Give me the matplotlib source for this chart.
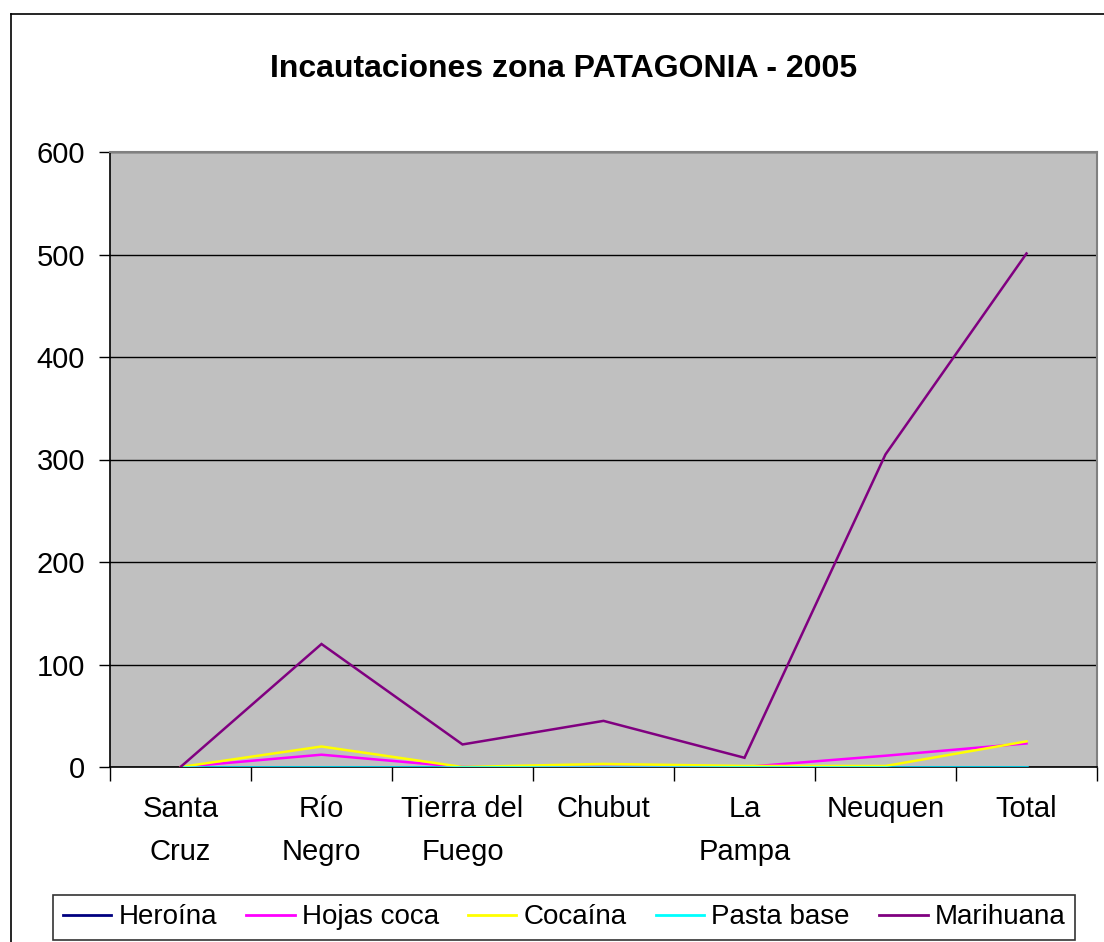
import matplotlib.pyplot as plt
from matplotlib.lines import Line2D
import numpy as np

plt.rcParams['font.family'] = ['Liberation Sans', 'DejaVu Sans']

categories = ["Santa\nCruz", "Río\nNegro", "Tierra del\nFuego", "Chubut", "La\nPampa", "Neuquen", "Total"]
heroina = [0, 0, 0, 0, 0, 0, 0]
hojas_coca = [0, 12, 0, 0, 0, 11, 23]
cocaina = [0, 20, 0, 3, 1, 1, 25]
pasta_base = [0, 0, 0, 0, 0, 0, 0]
marihuana = [0, 120, 22, 45, 9, 305, 501]

series = [
    ("Heroína", heroina, "#000080"),
    ("Hojas coca", hojas_coca, "#FF00FF"),
    ("Cocaína", cocaina, "#FFFF00"),
    ("Pasta base", pasta_base, "#00FFFF"),
    ("Marihuana", marihuana, "#800080"),
]

W, H = 1104, 942
fig = plt.figure(figsize=(W / 100, H / 100), dpi=100)
ax = fig.add_axes([110 / W, 1 - 767 / H, (1097 - 110) / W, (767 - 152) / H])
ax.set_facecolor("#C0C0C0")

x = np.arange(len(categories))
for name, vals, color in series:
    ax.plot(x, vals, color=color, lw=1.8, label=name, solid_joinstyle="miter", zorder=3)

ax.set_xlim(-0.5, len(categories) - 0.5)
ax.set_ylim(0, 600)
ax.set_yticks(range(0, 601, 100))
ax.yaxis.grid(True, color="black", lw=1)
ax.set_axisbelow(True)

# tick marks sit between categories, labels sit under each category
ax.set_xticks(np.arange(-0.5, len(categories), 1))
ax.set_xticklabels([])
ax.set_xticks(x, minor=True)
ax.set_xticklabels(categories, minor=True, fontsize=21, linespacing=1.7, va="top")
ax.tick_params(axis="x", which="major", length=10, width=1, direction="out")
ax.tick_params(axis="x", which="minor", length=0, pad=20)
ax.tick_params(axis="y", length=8, width=1, direction="out", labelsize=21, pad=10)

for side in ("left", "bottom"):
    ax.spines[side].set_color("black")
    ax.spines[side].set_linewidth(1.2)
for side in ("top", "right"):
    ax.spines[side].set_color("#808080")
    ax.spines[side].set_linewidth(1.5)

fig.text(564 / W, 1 - 77 / H, "Incautaciones zona PATAGONIA - 2005",
         ha="center", va="baseline", fontsize=23, fontweight="bold")

leg = fig.legend(loc="center", bbox_to_anchor=(564 / W, 1 - 917.5 / H), ncol=5,
                 fontsize=20, frameon=True, fancybox=False, handlelength=1.75,
                 handletextpad=0.25, columnspacing=1.05, borderpad=0.35,
                 borderaxespad=0)
leg.get_frame().set_edgecolor("black")
leg.get_frame().set_linewidth(1.2)
for h in leg.get_lines():
    h.set_linewidth(2)

# outer chart border
fig.add_artist(Line2D([11 / W, 11 / W], [0, 1 - 14 / H], color="black", lw=1.2,
                      transform=fig.transFigure))
fig.add_artist(Line2D([11 / W, 1], [1 - 14 / H, 1 - 14 / H], color="black", lw=1.2,
                      transform=fig.transFigure))

fig.savefig("out.png", dpi=100)
